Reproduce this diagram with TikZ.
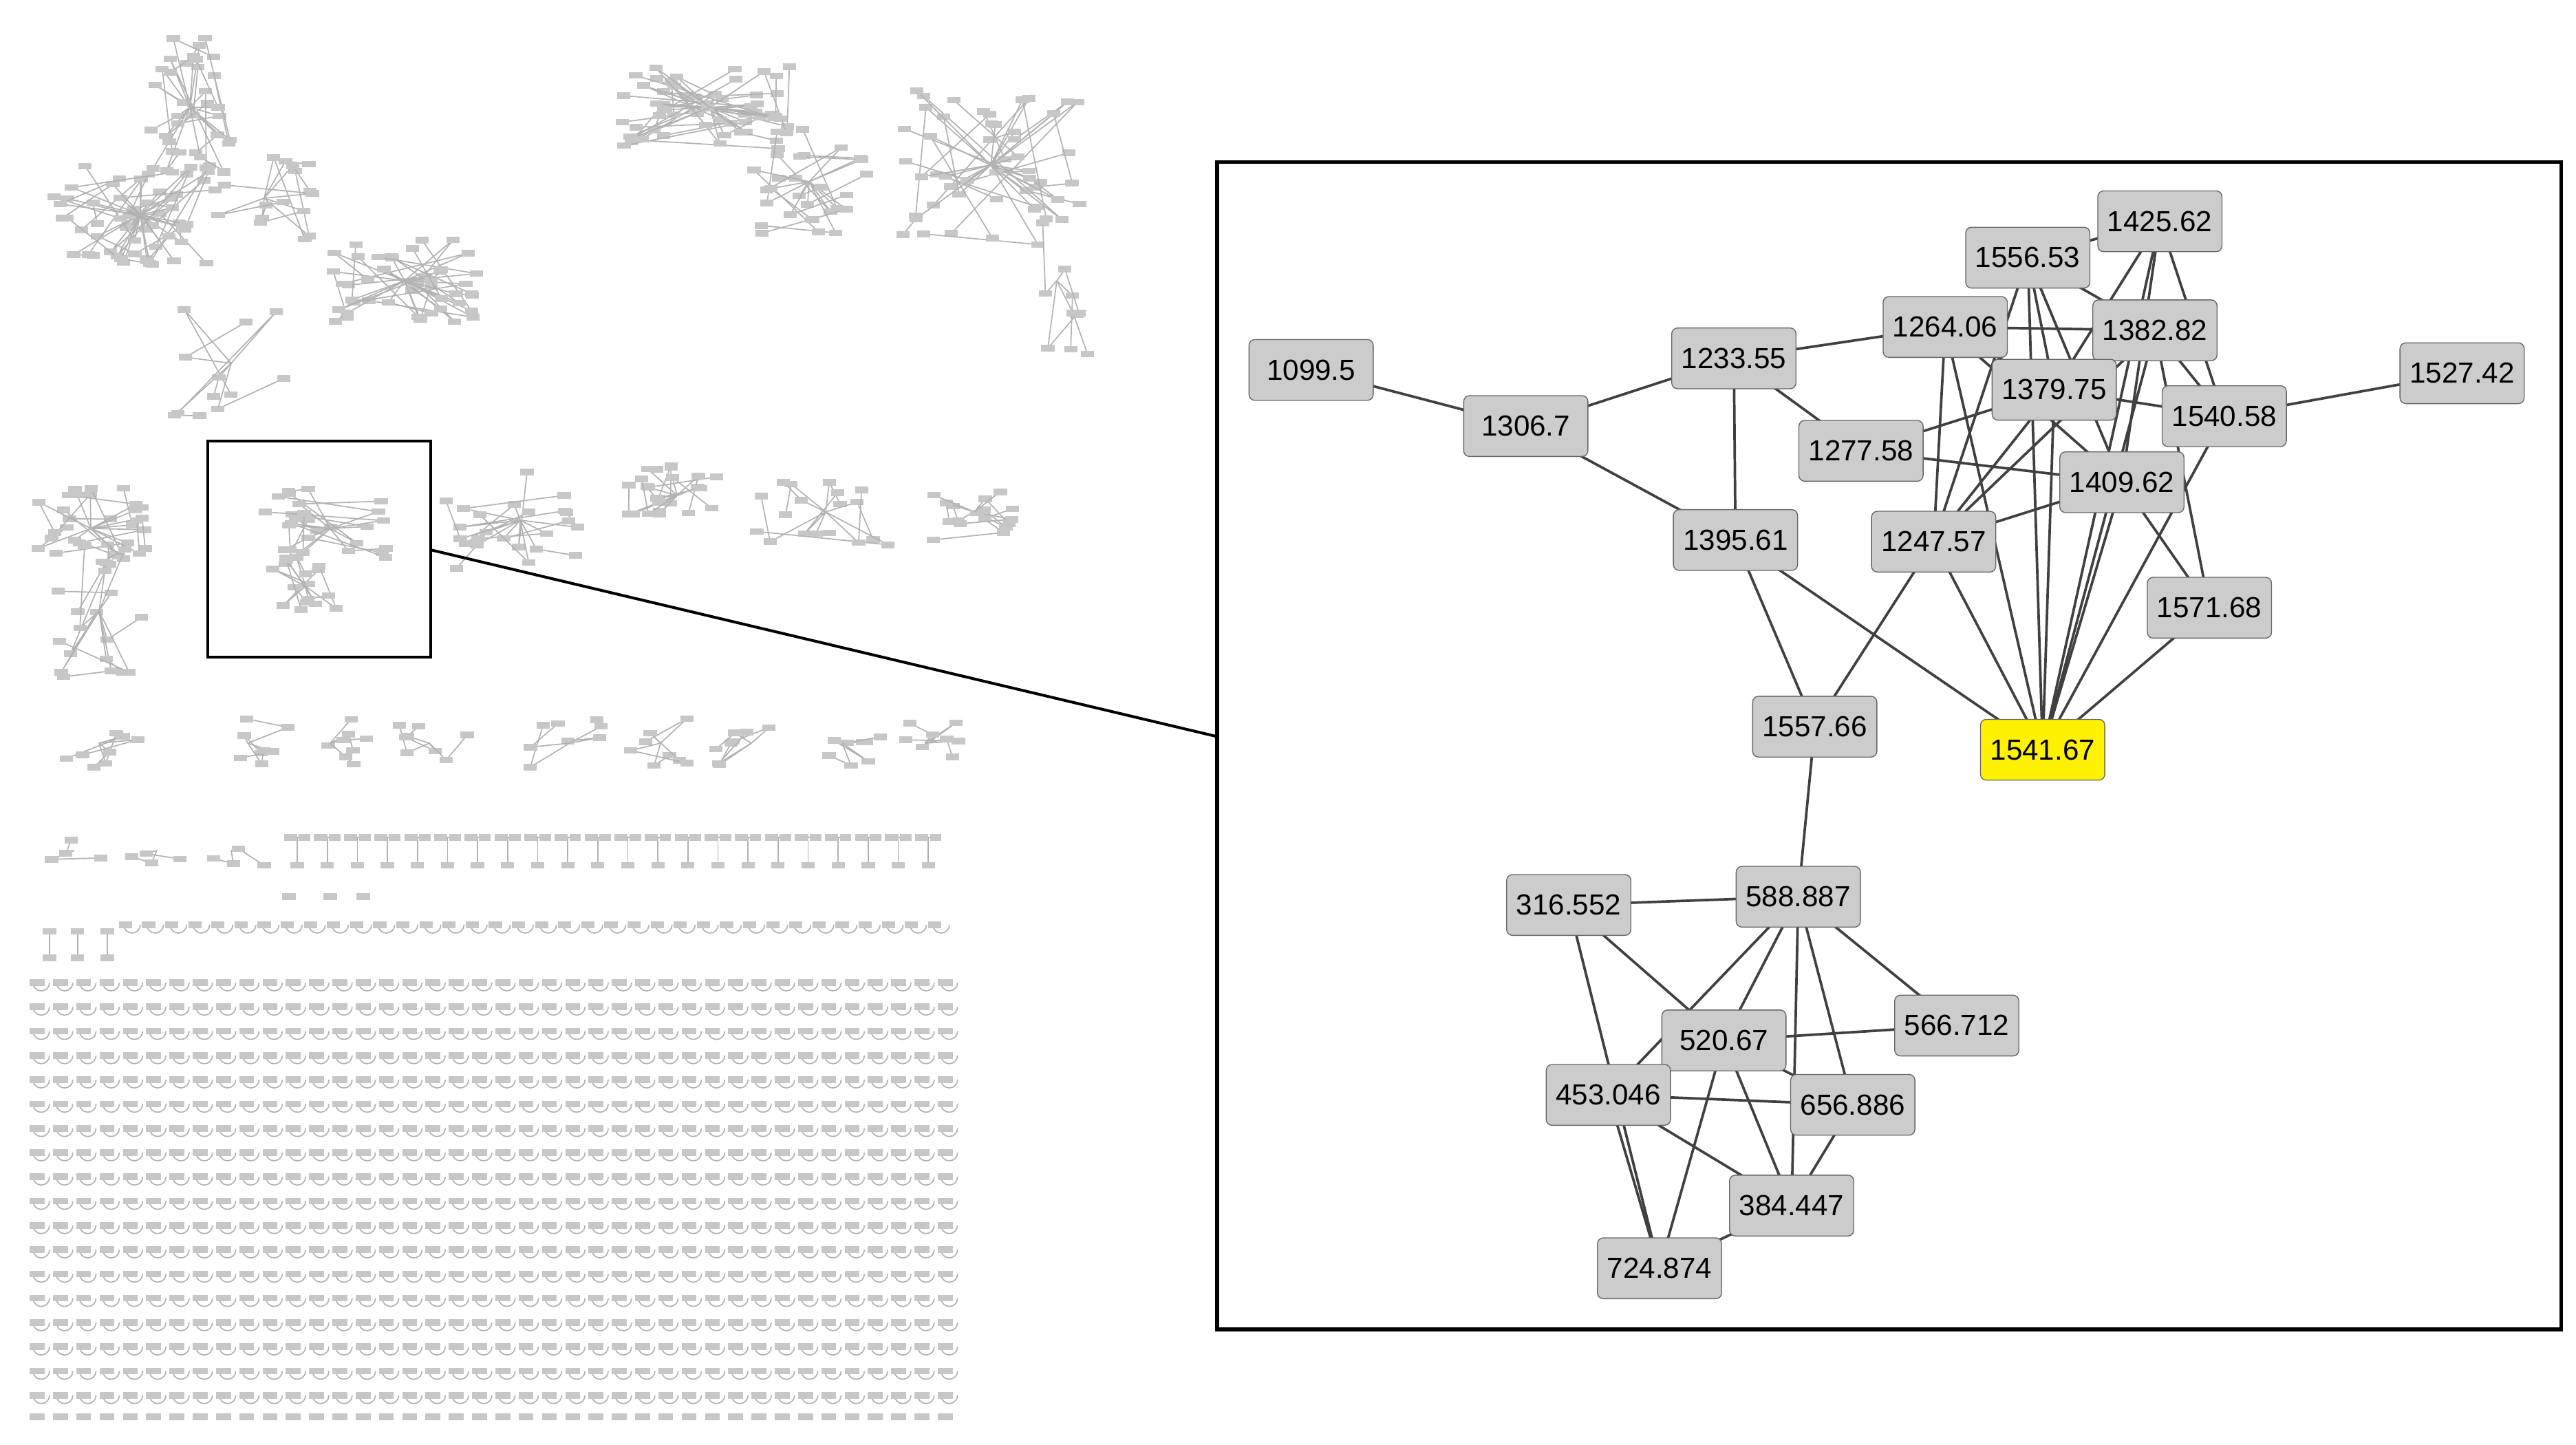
\documentclass[tikz,border=0pt]{standalone}
\usepackage{fontspec}
\setmainfont{Liberation Sans}
\begin{document}
\begin{tikzpicture}[x=0.025cm,y=-0.025cm,
  nd/.style={draw=black!60,fill=black!20,rounded corners=2.5pt,inner sep=0pt,minimum width=1.88cm,minimum height=0.92cm,font=\fontsize{12.5}{14}\selectfont},
  ed/.style={draw=black!75,line width=1.1pt},
  tn/.style={fill=black!22,draw=none},
  tl/.style={draw=black!30,line width=0.5pt}]
\useasboundingbox (0,0) rectangle (1560,875);
\pgfmathsetseed{7}
\newcommand\clus[5]{%
  \foreach \k in {1,...,#5}{%
    \pgfmathsetmacro\px{#1+#3*rand}\pgfmathsetmacro\py{#2+#4*rand}%
    \pgfmathsetmacro\qx{#1+#3*rand}\pgfmathsetmacro\qy{#2+#4*rand}%
    \draw[tl] (#1,#2)--(\px,\py)--(\qx,\qy);
    \fill[tn] (\px-4,\py-2) rectangle (\px+4,\py+2);
    \fill[tn] (\qx-4,\qy-2) rectangle (\qx+4,\qy+2);}}
% upper clusters
\clus{85}{130}{55}{30}{30}
\clus{115}{65}{25}{45}{18}
\clus{245}{170}{45}{25}{22}
\clus{160}{120}{30}{25}{8}
\clus{140}{220}{45}{35}{6}
\clus{430}{65}{60}{25}{30}
\clus{490}{110}{35}{35}{14}
\clus{600}{100}{55}{50}{26}
\clus{640}{170}{20}{45}{5}
% middle clusters
\clus{55}{320}{35}{25}{16}
\clus{60}{370}{30}{40}{10}
\clus{200}{320}{40}{25}{14}
\clus{185}{355}{20}{18}{8}
\clus{315}{315}{45}{30}{12}
\clus{410}{300}{30}{18}{12}
\clus{500}{310}{50}{20}{9}
\clus{590}{310}{25}{22}{9}
\foreach \cx in {60,150,200,260,345,400,455,510,560}{\clus{\cx}{450}{25}{15}{4}}
\foreach \cx in {45,95,140}{\clus{\cx}{515}{20}{10}{2}}
% T motifs
\foreach \i in {0,...,21}{\pgfmathsetmacro\xx{180+\i*18.2}
  \draw[tl] (\xx-5,507)--(\xx+5,507) (\xx,507)--(\xx,523);
  \fill[tn] (\xx-8,505) rectangle (\xx+0,509); \fill[tn] (\xx+1,505) rectangle (\xx+8,509); \fill[tn] (\xx-4,522) rectangle (\xx+4,526);}
\foreach \xx in {175,200,220}{\fill[tn] (\xx-4,541) rectangle (\xx+4,545);}
% self-loop motifs
\foreach \i in {0,...,35}{\pgfmathsetmacro\xx{75+\i*14}
  \draw[tl] (\xx,560) arc (180:0:5);\fill[tn] (\xx-3,558) rectangle (\xx+5,562);}
\foreach \xx in {30,47,65}{\fill[tn] (\xx-4,562) rectangle (\xx+4,566);\fill[tn] (\xx-4,578) rectangle (\xx+4,582);\draw[tl](\xx,566)--(\xx,578);}
\foreach \r in {0,...,17}{\pgfmathsetmacro\yy{595+\r*14.7}
 \foreach \i in {0,...,39}{\pgfmathsetmacro\xx{20+\i*14.1}
  \draw[tl] (\xx,\yy) arc (180:0:5);\fill[tn] (\xx-2,\yy-2) rectangle (\xx+7,\yy+2);}}
\foreach \i in {0,...,39}{\pgfmathsetmacro\xx{20+\i*14.1}\fill[tn] (\xx-2,856) rectangle (\xx+7,860);}
% zoom box and link
\draw[line width=1.2pt] (126,267) rectangle (261,398);
\draw[line width=1.6pt] (737,98) rectangle (1551,805);
\coordinate (za) at (261,333); \coordinate (zb) at (737,446);
\draw[line width=1.2pt] (za)--(zb);
% nodes
\foreach \m/\n/\x/\y in {a/1099.5/794/224,b/1306.7/924/258,c/1233.55/1050/217,d/1264.06/1178/198,e/1556.53/1228/156,f/1425.62/1308/134,g/1382.82/1305/200,h/1379.75/1244/236,i/1540.58/1347/252,j/1527.42/1491/226,k/1277.58/1127/273,l/1409.62/1285/292,m/1395.61/1051/327,n/1247.57/1171/328,o/1571.68/1338/368,p/1557.66/1099/440,q/1541.67/1237/454,r/588.887/1089/543,s/316.552/950/548,t/520.67/1044/630,u/566.712/1185/621,v/453.046/974/663,w/656.886/1122/669,x/384.447/1085/730,y/724.874/1005/768}
  {\coordinate (c\m) at (\x,\y);}
\foreach \a/\b in {a/b,b/c,b/m,c/d,c/m,c/k,m/p,m/q,p/n,p/r,i/j,n/q,o/q,d/q,e/q,f/q,g/q,h/q,i/q,l/q,d/n,d/g,d/h,d/l,e/f,e/g,e/h,e/l,e/n,f/i,f/h,f/l,g/i,g/o,h/i,h/k,h/n,k/l,n/l,l/o,g/n,s/r,s/t,s/y,r/t,r/u,r/v,r/w,r/x,t/u,t/x,t/y,v/w,v/x,v/y,w/x,w/t,x/y}
  {\draw[ed] (c\a)--(c\b);}
\foreach \m/\n in {a/1099.5,b/1306.7,c/1233.55,d/1264.06,e/1556.53,f/1425.62,g/1382.82,h/1379.75,i/1540.58,j/1527.42,k/1277.58,l/1409.62,m/1395.61,n/1247.57,o/1571.68,p/1557.66,r/588.887,s/316.552,t/520.67,u/566.712,v/453.046,w/656.886,x/384.447,y/724.874}
  {\node[nd] (n\m) at (c\m) {\n};}
\node[nd,fill=yellow] (nq) at (cq) {1541.67};
\end{tikzpicture}
\end{document}
